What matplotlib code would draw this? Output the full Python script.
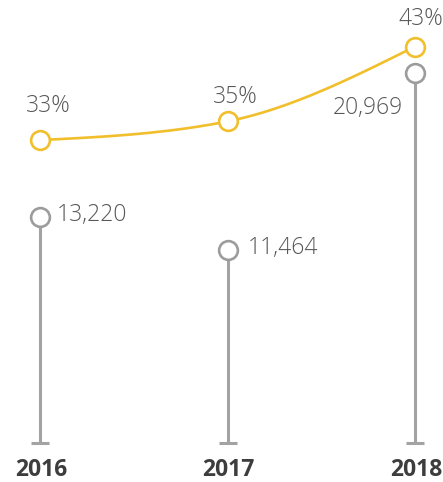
import numpy as np
import matplotlib.pyplot as plt

years = [2016, 2017, 2018]
counts = [13220, 11464, 20969]
shares = [33, 35, 43]
count_labels = ["13,220", "11,464", "20,969"]
share_labels = ["33%", "35%", "43%"]

plt.rcParams['font.family'] = ['Open Sans', 'DejaVu Sans']

grey = '#a3a3a3'
yellow = '#f1bf2c'
text_grey = '#575757'


def monotone_curve(x, y, n=60):
    # monotone cubic (d3 curveMonotoneX style) through the points
    x = np.asarray(x, float)
    y = np.asarray(y, float)
    h = np.diff(x)
    s = np.diff(y) / h
    t = np.zeros_like(y)
    for i in range(1, len(x) - 1):
        p = (s[i - 1] * h[i] + s[i] * h[i - 1]) / (h[i - 1] + h[i])
        t[i] = (np.sign(s[i - 1]) + np.sign(s[i])) * min(abs(s[i - 1]), abs(s[i]), 0.5 * abs(p))
    t[0] = (3 * s[0] - t[1]) / 2
    t[-1] = (3 * s[-1] - t[-2]) / 2
    xs, ys = [], []
    for i in range(len(h)):
        u = np.linspace(0, 1, n)
        h00 = 2 * u**3 - 3 * u**2 + 1
        h10 = u**3 - 2 * u**2 + u
        h01 = -2 * u**3 + 3 * u**2
        h11 = u**3 - u**2
        xs.append(x[i] + u * h[i])
        ys.append(h00 * y[i] + h10 * h[i] * t[i] + h01 * y[i + 1] + h11 * h[i] * t[i + 1])
    return np.concatenate(xs), np.concatenate(ys)


fig = plt.figure(figsize=(4.43, 4.82), dpi=100)
ax = fig.add_axes([0, 39 / 482, 1, 443 / 482])
ax.set_xlim(2015.787, 2018.149)
ax.set_ylim(1060, 24900)
ax.axis('off')

# lollipop stems from the bottom of the axes
bottom = ax.get_ylim()[0]
ax.vlines(years, bottom, counts, color=grey, lw=2.2, zorder=1)
ax.plot(years, [bottom] * 3, ls='none', marker='_', ms=13, mew=2.2, color=grey,
        clip_on=False)
ax.plot(years, counts, ls='none', marker='o', ms=13.5, mew=1.9,
        mfc='white', mec='#9c9c9c', zorder=3)

count_offsets = [(17, 2), (20, 2), (-12, -35)]
count_ha = ['left', 'left', 'right']
for x, v, lab, off, ha in zip(years, counts, count_labels, count_offsets, count_ha):
    ax.annotate(lab, (x, v), xytext=off, textcoords='offset pixels',
                ha=ha, va='center', fontsize=16.5, fontweight='light', color=text_grey)

# share line on a second scale
ax2 = ax.twinx()
ax2.set_ylim(0.63, 47.97)
ax2.axis('off')
cx, cy = monotone_curve(years, shares)
ax2.plot(cx, cy, color=yellow, lw=1.9, zorder=2)
ax2.plot(years, shares, ls='none', marker='o', ms=13.5, mew=1.9,
         mfc='white', mec=yellow, zorder=3)

share_offsets = [(8, 34), (8, 24), (6, 28)]
for x, v, lab, off in zip(years, shares, share_labels, share_offsets):
    ax2.annotate(lab, (x, v), xytext=off, textcoords='offset pixels',
                 ha='center', va='center', fontsize=16.5, fontweight='light', color=text_grey)

# year labels under the stems
for x in years:
    ax.annotate(str(x), (x, 0), xycoords=('data', 'axes fraction'),
                xytext=(1, -27), textcoords='offset pixels',
                ha='center', va='center', fontsize=16.5, fontweight='bold',
                color='#3d3d3d', annotation_clip=False)

fig.savefig('out.png', dpi=100)
